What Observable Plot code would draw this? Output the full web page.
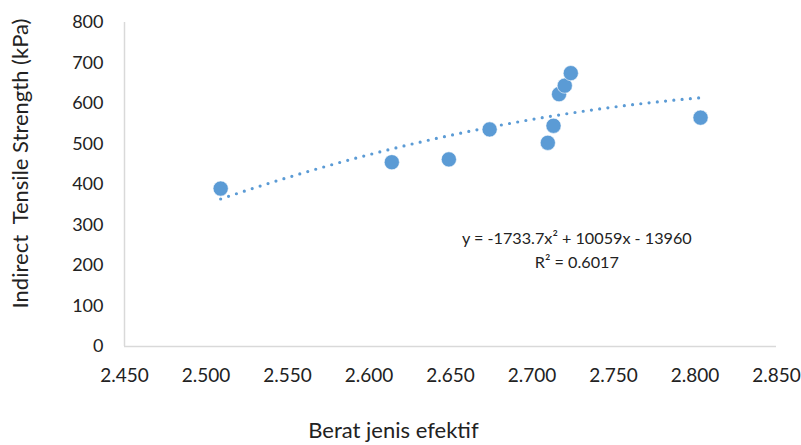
<!DOCTYPE html>
<html>
<head>
<meta charset="utf-8">
<script src="https://cdn.jsdelivr.net/npm/d3@7"></script>
<script src="https://cdn.jsdelivr.net/npm/@observablehq/plot@0.6"></script>
<style>
  html, body { margin: 0; padding: 0; background: #fff; }
  #chart { position: relative; width: 801px; height: 445px; }
  svg { font-family: Lato, "Open Sans", sans-serif; }
</style>
</head>
<body>
<div id="chart"></div>
<script>
// Data
const beratJenis = [2.509, 2.614, 2.649, 2.674, 2.7097, 2.7132, 2.7166, 2.7201, 2.7238, 2.8034];
const itsKpa     = [390,   455,   462,   536,   503,    545,    623,    644,    675,    565];
// Polynomial trendline coefficients shown on the chart: y = a x^2 + b x + c
const trendCoef = [-1733.7, 10059, -13960];
const equationLines = ["y = -1733.7x\u00B2 + 10059x - 13960", "R\u00B2 = 0.6017"];
const xTicks = [2.45, 2.5, 2.55, 2.6, 2.65, 2.7, 2.75, 2.8, 2.85];
const yTicks = [0, 100, 200, 300, 400, 500, 600, 700, 800];

const points = beratJenis.map((x, i) => ({x, y: itsKpa[i]}));
const [a, b, c] = trendCoef;
const xMin = d3.min(beratJenis), xMax = d3.max(beratJenis);
const trend = d3.range(0, 101).map(i => {
  const x = xMin + (xMax - xMin) * i / 100;
  return {x, y: a * x * x + b * x + c};
});

const blue = "#5B9BD5";
const axisGray = "#D9D9D9";
const textCol = "#222";

const plot = Plot.plot({
  width: 801,
  height: 445,
  marginLeft: 124,
  marginRight: 25,
  marginTop: 22,
  marginBottom: 99,
  style: {fontFamily: "Lato, 'Open Sans', sans-serif", fontSize: "18px", color: textCol, background: "#fff"},
  x: {domain: [2.45, 2.85], ticks: xTicks, tickFormat: d3.format(".3f"), label: null},
  y: {domain: [0, 800], ticks: yTicks, label: null},
  marks: [
    Plot.ruleX([2.45], {stroke: axisGray, strokeWidth: 1.5}),
    Plot.ruleY([0], {stroke: axisGray, strokeWidth: 1.5}),
    Plot.axisX({ticks: xTicks, tickFormat: d3.format(".3f"), tickSize: 0, tickPadding: 22, fontSize: 19, fill: textCol, label: null}),
    Plot.axisY({ticks: yTicks, tickSize: 0, tickPadding: 21, fontSize: 18, fill: textCol, label: null}),
    Plot.line(trend, {x: "x", y: "y", stroke: blue, strokeWidth: 3.2, strokeDasharray: "0,8.3", strokeLinecap: "round"}),
    Plot.dot(points, {x: "x", y: "y", r: 7.6, fill: blue, stroke: "#fff", strokeWidth: 0.6}),
    Plot.text([equationLines.join("\n")], {x: 2.7275, y: 264, lineAnchor: "top", textAnchor: "middle", fontSize: 16.2, lineHeight: 1.45, fill: textCol, dy: -12}),
    Plot.text(["Indirect  Tensile Strength (kPa)"], {frameAnchor: "left", textAnchor: "middle", lineAnchor: "middle", dx: -104, dy: -21, rotate: -90, fontSize: 22, fill: textCol}),
    Plot.text(["Berat jenis efektif"], {x: 2.615, y: 0, dy: 84, fontSize: 22, fill: textCol})
  ]
});
document.getElementById("chart").appendChild(plot);
</script>
</body>
</html>
